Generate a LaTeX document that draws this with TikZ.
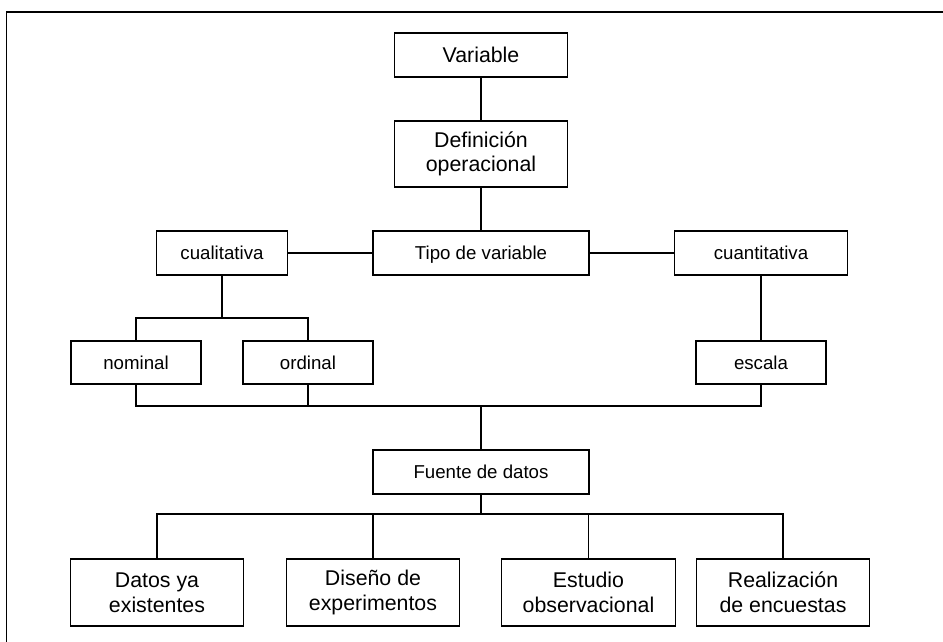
\documentclass[tikz,border=0pt]{standalone}
\usepackage{fontspec}
\setmainfont{Liberation Sans}
\begin{document}
\begin{tikzpicture}[x=0.75pt,y=-0.75pt,
  box/.style={draw=black,line width=0.85pt,fill=white,inner sep=0pt,align=center,anchor=center},
  big/.style={box,font=\fontsize{16}{18.5}\selectfont},
  bigone/.style={big,text height=14pt,text depth=2.5pt},
  small/.style={box,font=\fontsize{14}{16}\selectfont,text height=13pt,text depth=3pt},
  conn/.style={line width=0.8pt}]
\useasboundingbox[fill=white] (0,0) rectangle (943,642);
\draw[line width=1.1pt] (6.5,642) -- (6.5,12) -- (943,12);
% nodes
\node[bigone,minimum width=173.5*0.75pt,minimum height=44*0.75pt] (var) at (481,55) {Variable};
\node[big,minimum width=173.5*0.75pt,minimum height=66*0.75pt] (def) at (481,154) {Definición\\operacional};
\node[small,minimum width=216*0.75pt,minimum height=44*0.75pt] (tipo) at (481,253) {Tipo de variable};
\node[small,minimum width=131*0.75pt,minimum height=44*0.75pt] (cual) at (222,253) {cualitativa};
\node[small,minimum width=173*0.75pt,minimum height=44*0.75pt] (cuan) at (761,253) {cuantitativa};
\node[small,minimum width=130*0.75pt,minimum height=43*0.75pt] (nom) at (136,362.5) {nominal};
\node[small,minimum width=130*0.75pt,minimum height=43*0.75pt] (ord) at (308,362.5) {ordinal};
\node[small,minimum width=130*0.75pt,minimum height=43*0.75pt] (esc) at (761,362.5) {escala};
\node[small,minimum width=216*0.75pt,minimum height=44*0.75pt] (fue) at (481,472) {Fuente de datos};
\node[big,minimum width=173.5*0.75pt,minimum height=67*0.75pt] (dat) at (157,592.5) {Datos ya\\existentes};
\node[big,minimum width=173.5*0.75pt,minimum height=67*0.75pt] (dis) at (373,592.5) {Diseño de\\experimentos};
\node[big,minimum width=173.5*0.75pt,minimum height=67*0.75pt] (est) at (588.5,592.5) {Estudio\\observacional};
\node[big,minimum width=173.5*0.75pt,minimum height=67*0.75pt] (rea) at (783,592.5) {Realización\\de encuestas};
% junctions
\coordinate (j1) at (222,318);
\coordinate (b1) at (481,406);
\coordinate (b2) at (481,514);
% connectors
\draw[conn] (var) -- (def);
\draw[conn] (def) -- (tipo);
\draw[conn] (cual) -- (tipo);
\draw[conn] (tipo) -- (cuan);
\draw[conn] (cual.south) -- (j1);
\draw[conn] (nom.north) -- (nom.north |- j1) -- (ord.north |- j1) -- (ord.north);
\draw[conn] (cuan) -- (esc);
\draw[conn] (nom.south) -- (nom.south |- b1) -- (esc.south |- b1) -- (esc.south);
\draw[conn] (ord.south) -- (ord.south |- b1);
\draw[conn] (b1) -- (fue.north);
\draw[conn] (fue.south) -- (b2);
\draw[conn] (dat.north) -- (dat.north |- b2) -- (rea.north |- b2) -- (rea.north);
\draw[conn] (dis.north) -- (dis.north |- b2);
\draw[conn] (est.north) -- (est.north |- b2);
\end{tikzpicture}
\end{document}
